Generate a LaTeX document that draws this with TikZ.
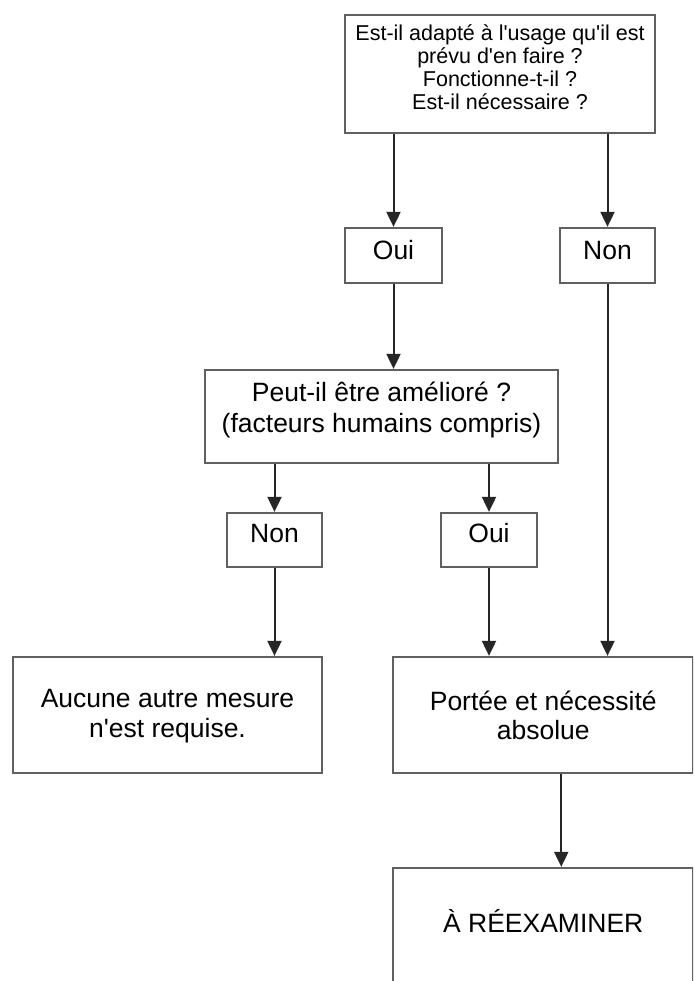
\documentclass[tikz,border=0pt]{standalone}
\usepackage{fontspec}
\setmainfont{Liberation Sans}
\usetikzlibrary{arrows.meta}
\definecolor{boxgray}{HTML}{606060}
\definecolor{arrgray}{HTML}{262626}
\newcommand\bigtxt{\fontsize{26.5pt}{30.5pt}\selectfont}
\newcommand\smalltxt{\fontsize{21.5pt}{23pt}\selectfont}
\newcommand\apos{\textquotesingle}
\begin{document}
\begin{tikzpicture}[x=1pt,y=-1pt,
  box/.style={draw=boxgray, line width=2.3pt, rectangle, inner sep=0pt, align=center, font=\bigtxt, text=black},
  arr/.style={draw=arrgray, line width=2pt, -{Triangle[length=15pt,width=14pt]}}
]
\useasboundingbox (0,0) rectangle (693,981);
\fill[white] (0,0) rectangle (693,981);
\clip (0,0) rectangle (693,981);

\node[box, font=\smalltxt, minimum width=310pt, minimum height=118pt, text height=71.4pt, text depth=0pt] (top) at (500,74)
  {Est-il adapté à l\apos usage qu\apos il est\\prévu d\apos en faire ?\\Fonctionne-t-il ?\\Est-il nécessaire ?};
\node[box, minimum width=97pt, minimum height=55pt, text height=8pt, text depth=0pt] (oui1) at (393.5,255.5) {Oui};
\node[box, minimum width=95pt, minimum height=55pt, text height=8pt, text depth=0pt] (non1) at (607.5,255.5) {Non};
\node[box, font=\fontsize{26.5pt}{31pt}\selectfont, minimum width=353pt, minimum height=93pt, text height=32pt, text depth=0pt] (peut) at (381.5,416.5)
  {Peut-il être amélioré ?\\(facteurs humains compris)};
\node[box, minimum width=95pt, minimum height=54pt, text height=5.6pt, text depth=0pt] (non2) at (274.5,540) {Non};
\node[box, minimum width=96pt, minimum height=54pt, text height=5.6pt, text depth=0pt] (oui2) at (489,540) {Oui};
\node[box, font=\fontsize{26.5pt}{30pt}\selectfont, minimum width=309pt, minimum height=116pt, text height=45pt, text depth=0pt] (aucune) at (167.5,715)
  {Aucune autre mesure\\n\apos est requise.};
\node[box, font=\fontsize{26.5pt}{29pt}\selectfont, minimum width=300.5pt, minimum height=116pt, text height=49pt, text depth=0pt] (portee) at (543.25,715)
  {Portée et nécessité\\absolue};
\node[box, minimum width=300.5pt, minimum height=132pt, text height=0pt, text depth=3pt] (reex) at (543.25,934) {À RÉEXAMINER};

\draw[arr] (top.south -| oui1) -- (oui1.north);
\draw[arr] (top.south -| non1) -- (non1.north);
\draw[arr] (oui1.south) -- (oui1.south |- peut.north);
\draw[arr] (non1.south) -- (non1.south |- portee.north);
\draw[arr] (peut.south -| non2) -- (non2.north);
\draw[arr] (peut.south -| oui2) -- (oui2.north);
\draw[arr] (non2.south) -- (non2.south |- aucune.north);
\draw[arr] (oui2.south) -- (oui2.south |- portee.north);
\draw[arr] ([xshift=18pt]portee.south) -- ([xshift=18pt]portee.south |- reex.north);
\end{tikzpicture}
\end{document}
